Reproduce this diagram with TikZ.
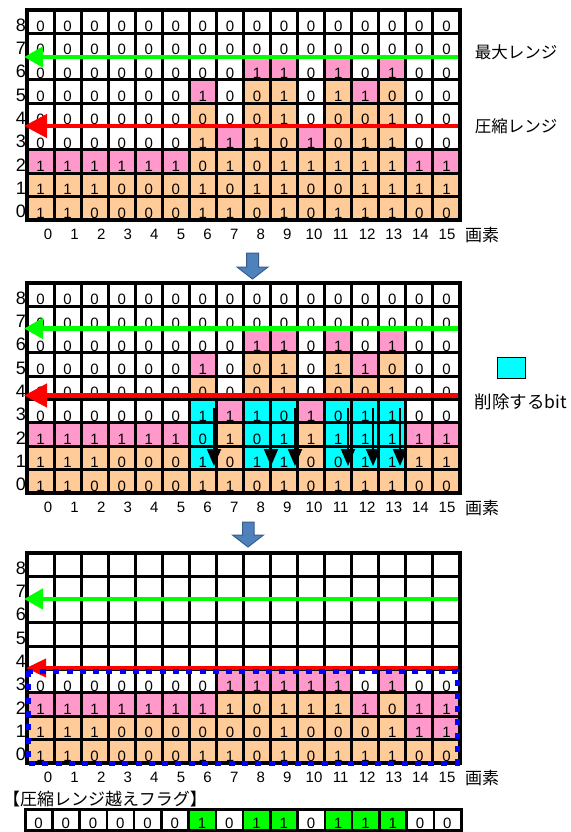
\documentclass[tikz,border=0pt]{standalone}
\usepackage{fontspec}
\setmainfont{Liberation Sans}
\newfontfamily\jp{Noto Sans CJK JP}
\usetikzlibrary{arrows.meta}
\definecolor{cw}{HTML}{FFFFFF}
\definecolor{cp}{HTML}{FF99CC}
\definecolor{co}{HTML}{FFCC99}
\definecolor{cc}{HTML}{00FFFF}
\definecolor{cg}{HTML}{00FF00}
\definecolor{cr}{HTML}{FF0000}
\definecolor{cb}{HTML}{0000FF}
\definecolor{bafill}{HTML}{4F81BD}
\definecolor{badraw}{HTML}{385D8A}
\def\CW{27.0625}
\def\RH{23.3}
\tikzset{
  cellbox/.style={minimum width=\CW pt, minimum height=\RH pt, inner sep=0pt, draw=none},
  digit/.style={inner sep=0pt, anchor=base, font=\fontsize{15}{15}\selectfont},
  gridline/.style={line width=3pt, line cap=rect},
  border/.style={line width=4pt},
  rowlab/.style={inner sep=0pt, anchor=east, font=\fontsize{18}{18}\selectfont},
  collab/.style={inner sep=0pt, font=\fontsize{15}{15}\selectfont},
  jplab/.style={inner sep=0pt, font=\jp\fontsize{17}{17}\selectfont},
  garrow/.style={draw=cg, line width=4.5pt, -{Triangle[length=19pt,width=20pt]}},
  rarrow/.style={draw=cr, line width=4.5pt, -{Triangle[length=23pt,width=23pt]}},
  rarrowthin/.style={draw=cr, line width=3.5pt, -{Triangle[length=20pt,width=18pt]}},
  karrow/.style={draw=black, line width=2pt, -{Triangle[length=17pt,width=14pt]}},
  blockarrow/.style={fill=bafill, draw=badraw, line width=1pt},
  flagcell/.style={minimum width=27.25pt, minimum height=21pt, inner sep=0pt, draw=black, line width=2.5pt},
}
\newcommand\gridrow[4]{% #1 grid name, #2 top y, #3 row index, #4 list colour/digit
  \foreach \fc/\dg [count=\ci from 0] in {#4} {
    \node[cellbox, fill=\fc] (#1-\ci-#3) at ({27+(\ci+0.5)*\CW},{#2+(8.5-#3)*\RH}) {};
    \node[digit] (#1-t\ci-#3) at ([yshift=1.8pt]#1-\ci-#3.south) {\dg};
  }}
\newcommand\gridlines[1]{% #1 top y
  \foreach \kk in {0,...,16} \draw[gridline] ({27+\kk*\CW},#1) -- ({27+\kk*\CW},{#1+9*\RH});
  \foreach \kk in {0,...,9} \draw[gridline] (27,{#1+\kk*\RH}) -- (460,{#1+\kk*\RH});
  \draw[border] (27,#1) rectangle (460,{#1+9*\RH});
}
\newcommand\axislabels[2]{% #1 grid name, #2 top y
  \foreach \rr in {0,...,8} \node[rowlab] (#1-row\rr) at (26,{#2+(8.5-\rr)*\RH+3.5}) {\rr};
  \foreach \kk in {0,...,15} \node[collab] (#1-col\kk) at ({48+\kk*26.6},{#2+9*\RH+15}) {\kk};
  \node[jplab] (#1-px) at (482,{#2+9*\RH+15}) {画素};
}
\begin{document}
\begin{tikzpicture}[x=1pt,y=-1pt]
\useasboundingbox (0,0) rectangle (570,832);
\fill[white] (0,0) rectangle (570,832);

% ---------------- grid 1 ----------------
\gridrow{ga}{10}{8}{cw/0,cw/0,cw/0,cw/0,cw/0,cw/0,cw/0,cw/0,cw/0,cw/0,cw/0,cw/0,cw/0,cw/0,cw/0,cw/0}
\gridrow{ga}{10}{7}{cw/0,cw/0,cw/0,cw/0,cw/0,cw/0,cw/0,cw/0,cw/0,cw/0,cw/0,cw/0,cw/0,cw/0,cw/0,cw/0}
\gridrow{ga}{10}{6}{cw/0,cw/0,cw/0,cw/0,cw/0,cw/0,cw/0,cw/0,cp/1,cp/1,cw/0,cp/1,cw/0,cp/1,cw/0,cw/0}
\gridrow{ga}{10}{5}{cw/0,cw/0,cw/0,cw/0,cw/0,cw/0,cp/1,cw/0,co/0,co/1,cw/0,co/1,cp/1,co/0,cw/0,cw/0}
\gridrow{ga}{10}{4}{cw/0,cw/0,cw/0,cw/0,cw/0,cw/0,co/0,cw/0,co/0,co/1,cw/0,co/0,co/0,co/1,cw/0,cw/0}
\gridrow{ga}{10}{3}{cw/0,cw/0,cw/0,cw/0,cw/0,cw/0,co/1,cp/1,co/1,co/0,cp/1,co/0,co/1,co/1,cw/0,cw/0}
\gridrow{ga}{10}{2}{cp/1,cp/1,cp/1,cp/1,cp/1,cp/1,co/0,co/1,co/0,co/1,co/1,co/1,co/1,co/1,cp/1,cp/1}
\gridrow{ga}{10}{1}{co/1,co/1,co/1,co/0,co/0,co/0,co/1,co/0,co/1,co/1,co/0,co/0,co/1,co/1,co/1,co/1}
\gridrow{ga}{10}{0}{co/1,co/1,co/0,co/0,co/0,co/0,co/1,co/1,co/0,co/1,co/0,co/1,co/1,co/1,co/0,co/0}
\gridlines{10}
\axislabels{ga}{10}
\coordinate (ga-gR) at (458,57);
\coordinate (ga-gL) at (24,57);
\coordinate (ga-rR) at (458,126);
\coordinate (ga-rL) at (24,126);
\draw[garrow] (ga-gR) -- (ga-gL);
\draw[rarrow] (ga-rR) -- (ga-rL);
\node[jplab, font=\jp\fontsize{16.5}{16.5}\selectfont] (maxlab) at (516,52) {最大レンジ};
\node[jplab, font=\jp\fontsize{16.5}{16.5}\selectfont] (cmplab) at (516,126) {圧縮レンジ};

% block arrow 1
\draw[blockarrow] (246.5,253) -- (258.5,253) -- (258.5,267) -- (268,267) -- (252.5,279) -- (237,267) -- (246.5,267) -- cycle;

% ---------------- grid 2 ----------------
\gridrow{gb}{283}{8}{cw/0,cw/0,cw/0,cw/0,cw/0,cw/0,cw/0,cw/0,cw/0,cw/0,cw/0,cw/0,cw/0,cw/0,cw/0,cw/0}
\gridrow{gb}{283}{7}{cw/0,cw/0,cw/0,cw/0,cw/0,cw/0,cw/0,cw/0,cw/0,cw/0,cw/0,cw/0,cw/0,cw/0,cw/0,cw/0}
\gridrow{gb}{283}{6}{cw/0,cw/0,cw/0,cw/0,cw/0,cw/0,cw/0,cw/0,cp/1,cp/1,cw/0,cp/1,cw/0,cp/1,cw/0,cw/0}
\gridrow{gb}{283}{5}{cw/0,cw/0,cw/0,cw/0,cw/0,cw/0,cp/1,cw/0,co/0,co/1,cw/0,co/1,cp/1,co/0,cw/0,cw/0}
\gridrow{gb}{283}{4}{cw/0,cw/0,cw/0,cw/0,cw/0,cw/0,co/0,cw/0,co/0,co/1,cw/0,co/0,co/0,co/1,cw/0,cw/0}
\gridrow{gb}{283}{3}{cw/0,cw/0,cw/0,cw/0,cw/0,cw/0,cc/1,cp/1,cc/1,cc/0,cp/1,cc/0,cc/1,cc/1,cw/0,cw/0}
\gridrow{gb}{283}{2}{cp/1,cp/1,cp/1,cp/1,cp/1,cp/1,cc/0,co/1,cc/0,cc/1,co/1,cc/1,cc/1,cc/1,cp/1,cp/1}
\gridrow{gb}{283}{1}{co/1,co/1,co/1,co/0,co/0,co/0,cc/1,co/0,cc/1,cc/1,co/0,cc/0,cc/1,cc/1,co/1,co/1}
\gridrow{gb}{283}{0}{co/1,co/1,co/0,co/0,co/0,co/0,co/1,co/1,co/0,co/1,co/0,co/1,co/1,co/1,co/0,co/0}
\gridlines{283}
\axislabels{gb}{283}
\coordinate (gb-gR) at (458,328.5);
\coordinate (gb-gL) at (24,328.5);
\coordinate (gb-rR) at (458,395.5);
\coordinate (gb-rL) at (24,395.5);
\draw[garrow] (gb-gR) -- (gb-gL);
\draw[rarrow] (gb-rR) -- (gb-rL);
\foreach \nm/\xx in {a6/214, a8/271, a9/295, a11/348, a12/373, a13/400} {
  \coordinate (gb-\nm s) at (\xx,408);
  \coordinate (gb-\nm e) at (\xx,466);
  \draw[karrow] (gb-\nm s) -- (gb-\nm e);
}
\node[draw=black, fill=cc, line width=1pt, minimum width=28pt, minimum height=21pt, inner sep=0pt] (legend) at (511,367.5) {};
\node[jplab, font=\jp\fontsize{17.5}{17.5}\selectfont] (dellab) at (521,402) {削除するbit};

% block arrow 2
\draw[blockarrow] (242.5,522) -- (254,522) -- (254,535) -- (263.5,535) -- (248,547) -- (232.5,535) -- (242.5,535) -- cycle;

% ---------------- grid 3 ----------------
\gridrow{gc}{553}{8}{cw/{},cw/{},cw/{},cw/{},cw/{},cw/{},cw/{},cw/{},cw/{},cw/{},cw/{},cw/{},cw/{},cw/{},cw/{},cw/{}}
\gridrow{gc}{553}{7}{cw/{},cw/{},cw/{},cw/{},cw/{},cw/{},cw/{},cw/{},cw/{},cw/{},cw/{},cw/{},cw/{},cw/{},cw/{},cw/{}}
\gridrow{gc}{553}{6}{cw/{},cw/{},cw/{},cw/{},cw/{},cw/{},cw/{},cw/{},cw/{},cw/{},cw/{},cw/{},cw/{},cw/{},cw/{},cw/{}}
\gridrow{gc}{553}{5}{cw/{},cw/{},cw/{},cw/{},cw/{},cw/{},cw/{},cw/{},cw/{},cw/{},cw/{},cw/{},cw/{},cw/{},cw/{},cw/{}}
\gridrow{gc}{553}{4}{cw/{},cw/{},cw/{},cw/{},cw/{},cw/{},cw/{},cw/{},cw/{},cw/{},cw/{},cw/{},cw/{},cw/{},cw/{},cw/{}}
\gridrow{gc}{553}{3}{cw/0,cw/0,cw/0,cw/0,cw/0,cw/0,cw/0,cp/1,cp/1,cp/1,cp/1,cp/1,cw/0,cp/1,cw/0,cw/0}
\gridrow{gc}{553}{2}{cp/1,cp/1,cp/1,cp/1,cp/1,cp/1,cp/1,co/1,co/0,co/1,co/1,co/1,cp/1,co/0,cp/1,cp/1}
\gridrow{gc}{553}{1}{co/1,co/1,co/1,co/0,co/0,co/0,co/0,co/0,co/0,co/1,co/0,co/0,co/0,co/1,cp/1,cp/1}
\gridrow{gc}{553}{0}{co/1,co/1,co/0,co/0,co/0,co/0,co/1,co/1,co/0,co/1,co/0,co/1,co/1,co/1,co/0,co/0}
\gridlines{553}
\axislabels{gc}{553}
\coordinate (gc-gR) at (458,599);
\coordinate (gc-gL) at (24,599);
\coordinate (gc-rR) at (458,668);
\coordinate (gc-rL) at (26,668);
\draw[garrow] (gc-gR) -- (gc-gL);
\draw[rarrowthin] (gc-rR) -- (gc-rL);
\draw[cb, line width=5pt, dash pattern=on 6pt off 7.3pt] (28,671) rectangle (457,763);

% ---------------- flag row ----------------
\node[jplab, anchor=west] (flaglab) at (3,799) {【圧縮レンジ越えフラグ】};
\foreach \fc/\dg [count=\ci from 0] in {cw/0,cw/0,cw/0,cw/0,cw/0,cw/0,cg/1,cw/0,cg/1,cg/1,cw/0,cg/1,cg/1,cg/1,cw/0,cw/0} {
  \node[flagcell, fill=\fc] (flag-\ci) at ({25+(\ci+0.5)*27.25},819.5) {};
  \node[digit] (flagt-\ci) at ([yshift=3pt]flag-\ci.south) {\dg};
}
\draw[line width=3pt] (25,809) rectangle (461,830);
\end{tikzpicture}
\end{document}
